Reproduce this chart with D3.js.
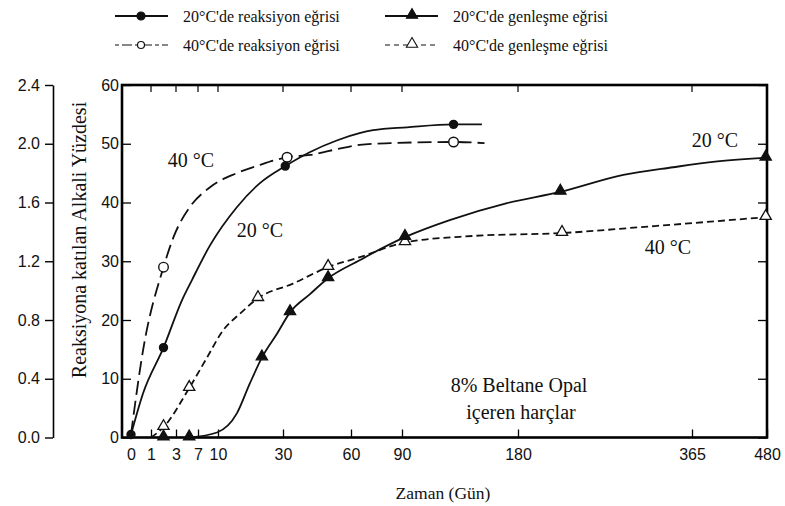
<!DOCTYPE html>
<meta charset="utf-8">
<style>
body { margin: 0; background: #fff; }
.tick text { font: 16px "Liberation Sans", Arial, sans-serif; fill: #111; }
.serif { font-family: "Liberation Serif", "Times New Roman", serif; fill: #111; }
</style>
<body>
<svg width="785" height="506"></svg>
<script src="https://d3js.org/d3.v7.min.js"></script>
<script>
// x axis tick days (axis is hand-drawn, roughly square-root spaced)
var dayTicks = [0, 1, 3, 7, 10, 30, 60, 90, 180, 365, 480];
var leftTicks = [0, 0.4, 0.8, 1.2, 1.6, 2.0, 2.4];
var innerTicks = [0, 10, 20, 30, 40, 50, 60];

// curves: [day, value]
var react20 = [[0,0.5],[0.6,7.5],[2,15.3],[4.1,23.4],[5.9,26.8],[8.8,32.7],[15.8,39.2],[22.9,43.3],[31,46.2],[42,48.6],[54,50.6],[65,51.8],[73,52.3],[94,52.8],[130,53.3],[152,53.3]];
var react20Marks = [[0,0.5],[2,15.3],[31,46.2],[130,53.3]];

var react40 = [[0,0.5],[0.6,14.8],[2,29],[2.8,34.1],[5.5,39.2],[8.8,42.6],[15.8,45],[22.9,46.4],[31.8,47.7],[42,48.1],[56.5,49.3],[65,49.8],[83,50.1],[130,50.3],[154,50.1]];
var react40Marks = [[2,29],[31.8,47.7],[130,50.3]];

var exp20 = [[5.4,0],[9.85,0.85],[15.8,4.1],[19.8,9.2],[23.5,13.6],[28.2,17.7],[33.1,21.3],[41.9,24.4],[49.9,27.1],[65.3,30.2],[72.9,31.4],[92.3,34.1],[127,37],[171.5,39.9],[225,41.8],[292,44.7],[345,46],[397,46.9],[478,47.6]];
var exp20Marks = [[2,0],[5.4,0],[23.5,13.6],[33.1,21.3],[49.9,27.1],[92.3,34.1],[225,41.8],[478,47.6]];

var exp40 = [[1,0],[2,1.75],[5.4,8.4],[8.35,13.6],[11.5,18.2],[16.8,21.1],[22.3,23.7],[34.4,26.2],[49.9,29],[65.3,30.7],[92.3,33.2],[145,34.3],[226.8,34.8],[310,35.8],[478,37.5]];
var exp40Marks = [[2,1.75],[5.4,8.4],[22.3,23.7],[49.9,29],[92.3,33.2],[226.8,34.8],[478,37.5]];

var legendItems = [
  {text: "20°C'de reaksiyon eğrisi", dash: null, mark: "dot"},
  {text: "40°C'de reaksiyon eğrisi", dash: "4,3,10,3", mark: "ring"},
  {text: "20°C'de genleşme eğrisi", dash: null, mark: "tri"},
  {text: "40°C'de genleşme eğrisi", dash: "5,4", mark: "opentri"}
];

var svg = d3.select("svg");
var pl = 122, pr = 767, pt = 85, pb = 437.5;

var x = d3.scaleLinear()
    .domain(dayTicks)
    .range([131, 151, 176, 198, 218, 283, 351, 402, 518, 692, 767]);
var y = d3.scaleLinear().domain([0, 60]).range([pb, pt]);
var yL = d3.scaleLinear().domain([0, 2.4]).range([pb, pt]);

// outer left axis
var gl = svg.append("g").attr("transform", "translate(53,0)")
    .call(d3.axisLeft(yL).tickValues(leftTicks).tickFormat(d3.format(".1f")).tickSize(8).tickSizeOuter(0).tickPadding(5));
gl.select(".domain").attr("stroke-width", 1.6);
gl.selectAll(".tick line").attr("stroke-width", 1.4);

// inner left ticks + labels
var gi = svg.append("g").attr("transform", "translate(" + pl + ",0)")
    .call(d3.axisRight(y).tickValues(innerTicks).tickSize(9).tickSizeOuter(0));
gi.select(".domain").remove();
gi.selectAll(".tick line").attr("stroke-width", 1.3);
gi.selectAll(".tick text").attr("x", -3).attr("text-anchor", "end");

// right ticks
var gr = svg.append("g").attr("transform", "translate(" + pr + ",0)")
    .call(d3.axisLeft(y).tickValues(innerTicks).tickSize(9).tickFormat(""));
gr.select(".domain").remove();
gr.selectAll(".tick line").attr("stroke-width", 1.3);

// bottom axis
var gb = svg.append("g").attr("transform", "translate(0," + pb + ")")
    .call(d3.axisBottom(x).tickValues(dayTicks).tickSize(0).tickPadding(11));
gb.select(".domain").remove();
gb.selectAll(".tick").append("line").attr("y2", -8).attr("stroke", "#000").attr("stroke-width", 1.3);

// top ticks
svg.append("g").selectAll("line").data(dayTicks.slice(1, -1)).enter().append("line")
    .attr("x1", d => x(d)).attr("x2", d => x(d))
    .attr("y1", pt).attr("y2", pt + 7)
    .attr("stroke", "#000").attr("stroke-width", 1.2);

// frame
svg.append("rect").attr("x", pl).attr("y", pt)
    .attr("width", pr - pl).attr("height", pb - pt)
    .attr("fill", "none").attr("stroke", "#000").attr("stroke-width", 2.6);

var line = d3.line().x(d => x(d[0])).y(d => y(d[1])).curve(d3.curveMonotoneX);

function drawCurve(data, dash) {
  svg.append("path").datum(data).attr("d", line)
    .attr("fill", "none").attr("stroke", "#111").attr("stroke-width", 1.8)
    .attr("stroke-dasharray", dash);
}
drawCurve(react20, null);
drawCurve(react40, "14,6");
drawCurve(exp20, null);
drawCurve(exp40, "7,4");

var tri = d3.symbol().type(d3.symbolTriangle).size(55);
function drawMarks(data, kind) {
  var sel = svg.append("g").selectAll("path").data(data).enter();
  if (kind == "dot" || kind == "ring") {
    sel.append("circle").attr("cx", d => x(d[0])).attr("cy", d => y(d[1]))
      .attr("r", kind == "dot" ? 4 : 4.8)
      .attr("fill", kind == "dot" ? "#111" : "#fff")
      .attr("stroke", "#111").attr("stroke-width", 1.4);
  } else {
    sel.append("path").attr("d", tri)
      .attr("transform", d => "translate(" + x(d[0]) + "," + (y(d[1]) - 1) + ")")
      .attr("fill", kind == "tri" ? "#111" : "#fff")
      .attr("stroke", "#111").attr("stroke-width", 1.3);
  }
}
drawMarks(exp40Marks, "opentri");
drawMarks(exp20Marks, "tri");
drawMarks(react40Marks, "ring");
drawMarks(react20Marks, "dot");

// annotations
function label(tx, ty, txt, size) {
  svg.append("text").attr("class", "serif").attr("x", tx).attr("y", ty)
    .attr("text-anchor", "middle").style("font-size", size + "px").text(txt);
}
label(191, 167, "40 °C", 20);
label(260, 237, "20 °C", 20);
label(715, 147, "20 °C", 20);
label(668, 254, "40 °C", 20);
label(519, 392, "8% Beltane Opal", 20);
label(521, 419, "içeren harçlar", 20);

// axis titles
svg.append("text").attr("class", "serif")
    .attr("transform", "translate(86,240) rotate(-90)")
    .attr("text-anchor", "middle").style("font-size", "20px")
    .text("Reaksiyona katılan Alkali Yüzdesi");
label(443, 499, "Zaman (Gün)", 17.5);

// legend
var lg = svg.append("g").selectAll("g").data(legendItems).enter().append("g")
    .attr("transform", (d, i) => "translate(" + (i < 2 ? 115 : 385) + "," + (i % 2 ? 45 : 16) + ")");
lg.append("line").attr("x1", 0).attr("x2", 53)
    .attr("stroke", "#111").attr("stroke-width", d => d.dash ? 1.2 : 2.2)
    .attr("stroke-dasharray", d => d.dash);
lg.each(function(d) {
  var g = d3.select(this);
  if (d.mark == "dot" || d.mark == "ring") {
    g.append("circle").attr("cx", 26).attr("r", d.mark == "dot" ? 4 : 3.5)
      .attr("fill", d.mark == "dot" ? "#111" : "#fff").attr("stroke", "#111").attr("stroke-width", 1.2);
  } else {
    g.append("path").attr("d", tri).attr("transform", "translate(27,-1)")
      .attr("fill", d.mark == "tri" ? "#111" : "#fff").attr("stroke", "#111").attr("stroke-width", 1.1);
  }
});
lg.append("text").attr("class", "serif").attr("x", 68).attr("y", 6)
    .style("font-size", "16px").text(d => d.text);
</script>
</body>
